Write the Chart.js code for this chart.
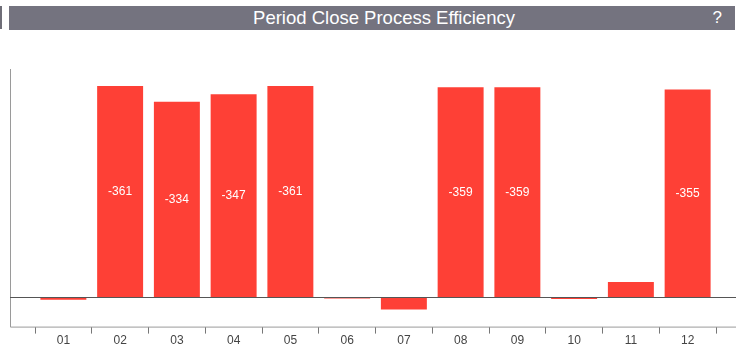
<!DOCTYPE html>
<html>
<head>
<meta charset="utf-8">
<script src="https://cdn.jsdelivr.net/npm/chart.js@4"></script>
<style>
  html, body { margin: 0; padding: 0; background: #fff; }
  body { width: 736px; height: 351px; position: relative; overflow: hidden; font-family: "Liberation Sans", Arial, sans-serif; }
  #mark { position: absolute; left: 0; top: 6px; width: 2px; height: 23px; background: #6f6e78; }
  #titlebar { position: absolute; left: 9px; top: 6px; width: 726px; height: 24px; background: #74737f; color: #fff; }
  #titlebar .t { position: absolute; left: 0; width: 750px; top: 0; line-height: 24px; text-align: center; font-size: 18.5px; }
  #titlebar .q { position: absolute; right: 13px; top: 0; line-height: 24px; font-size: 17px; }
  #wrap { position: absolute; left: 0; top: 0; width: 736px; height: 348px; }
</style>
</head>
<body>
<div id="mark"></div>
<div id="titlebar"><span class="t">Period Close Process Efficiency</span><span class="q">?</span></div>
<div id="wrap"><canvas id="chartEficiencia"></canvas></div>
<script>
// Dados do gráfico
const periodos = ['01', '02', '03', '04', '05', '06', '07', '08', '09', '10', '11', '12'];
const valores = [4, -361, -334, -347, -361, 2, 21, -359, -359, 3, -26, -355];
const limiteEixo = [-390, 50];

let chartEficiencia = null;

// Linhas do eixo, linha do zero e rótulos dos valores
const eixosPlugin = {
    id: 'eixos',
    afterDatasetsDraw(chart) {
        const ctx = chart.ctx;
        const area = chart.chartArea;
        const y = chart.scales.y;
        const zero = Math.round(y.getPixelForValue(0)) + 0.5;

        ctx.save();
        ctx.lineWidth = 1;
        ctx.strokeStyle = '#9a9a9a';
        ctx.beginPath();
        ctx.moveTo(10.5, area.top);
        ctx.lineTo(10.5, area.bottom + 0.5);
        ctx.lineTo(736, area.bottom + 0.5);
        ctx.stroke();

        ctx.strokeStyle = '#555';
        ctx.beginPath();
        ctx.moveTo(10, zero);
        ctx.lineTo(736, zero);
        ctx.stroke();

        // Rótulos
        ctx.fillStyle = '#fff';
        ctx.font = '12px "Liberation Sans", Arial, sans-serif';
        ctx.textAlign = 'center';
        ctx.textBaseline = 'middle';
        chart.getDatasetMeta(0).data.forEach((bar, i) => {
            if (Math.abs(valores[i]) < 100) return;
            ctx.fillText(String(valores[i]), bar.x, (bar.y + bar.base) / 2);
        });
        ctx.restore();
    }
};

function createChart() {
    const ctx = document.getElementById('chartEficiencia').getContext('2d');
    if (chartEficiencia) {
        chartEficiencia.destroy();
    }
    chartEficiencia = new Chart(ctx, {
        type: 'bar',
        data: {
            labels: periodos,
            datasets: [{
                data: valores,
                backgroundColor: '#fe4036',
                borderWidth: 0,
                categoryPercentage: 1,
                barPercentage: 0.81
            }]
        },
        options: {
            responsive: true,
            maintainAspectRatio: false,
            animation: false,
            layout: {
                padding: { left: 35, right: 20, top: 69, bottom: 0 }
            },
            plugins: {
                legend: { display: false },
                tooltip: { enabled: false }
            },
            scales: {
                x: {
                    grid: {
                        display: true,
                        drawOnChartArea: false,
                        drawTicks: true,
                        tickLength: 7,
                        color: '#777',
                        offset: true
                    },
                    border: { display: false },
                    ticks: {
                        color: '#444',
                        padding: 0,
                        font: { size: 12, family: '"Liberation Sans", Arial, sans-serif' }
                    }
                },
                y: {
                    display: false,
                    reverse: true,
                    min: limiteEixo[0],
                    max: limiteEixo[1]
                }
            }
        },
        plugins: [eixosPlugin]
    });
}

createChart();
</script>
</body>
</html>
